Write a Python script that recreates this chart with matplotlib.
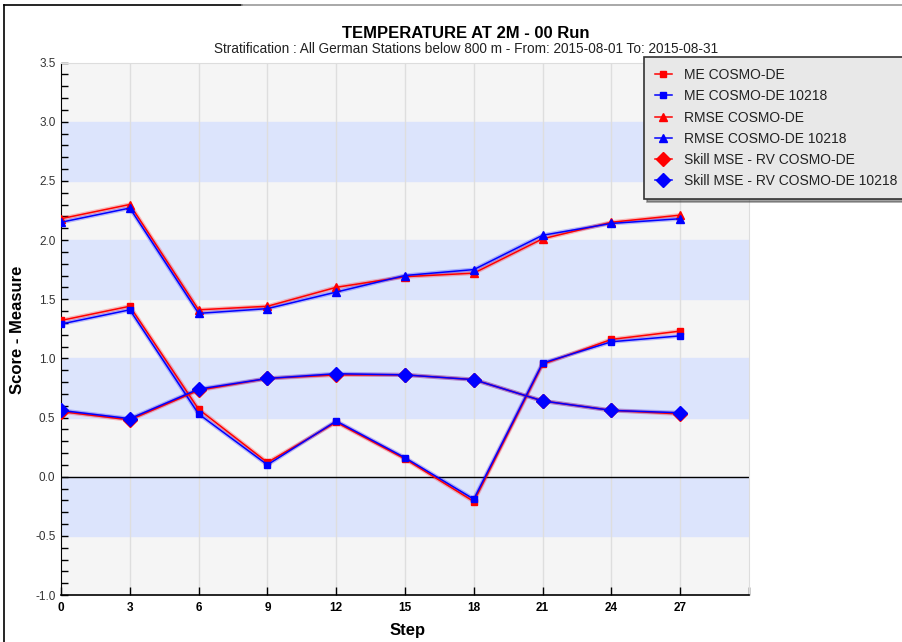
import matplotlib
matplotlib.use('Agg')
import matplotlib.pyplot as plt
from matplotlib.lines import Line2D
from matplotlib.ticker import MultipleLocator

# forecast steps (hours)
steps = [0, 3, 6, 9, 12, 15, 18, 21, 24, 27]

me_ref = [1.32, 1.44, 0.57, 0.12, 0.46, 0.15, -0.21, 0.95, 1.16, 1.23]
me_exp = [1.29, 1.41, 0.53, 0.10, 0.47, 0.16, -0.19, 0.96, 1.14, 1.19]
rmse_ref = [2.18, 2.30, 1.41, 1.44, 1.60, 1.69, 1.72, 2.01, 2.15, 2.21]
rmse_exp = [2.15, 2.27, 1.38, 1.42, 1.56, 1.70, 1.75, 2.04, 2.14, 2.18]
skill_ref = [0.55, 0.48, 0.73, 0.83, 0.86, 0.86, 0.82, 0.64, 0.56, 0.53]
skill_exp = [0.56, 0.49, 0.74, 0.83, 0.87, 0.86, 0.82, 0.64, 0.56, 0.54]

FONT = ['Liberation Sans', 'DejaVu Sans']
plt.rcParams['font.family'] = FONT

W, H = 903, 642
fig = plt.figure(figsize=(W / 100, H / 100), dpi=100, facecolor='white')
ax = fig.add_axes([61 / W, 1 - 595 / H, (749 - 61) / W, (595 - 62.5) / H])

# striped background
ax.set_facecolor('#f5f5f5')
for lo in [2.5, 1.5, 0.5, -0.5]:
    ax.axhspan(lo, lo + 0.5, color='#dce4fc', zorder=0)
for s in steps[1:]:
    ax.axvline(s, color='#dedede', lw=1, zorder=1)
ax.axhline(0, color='black', lw=1, zorder=2)

series = [
    (me_ref, 'red', 's', 5, 'ME COSMO-DE'),
    (me_exp, 'blue', 's', 5, 'ME COSMO-DE 10218'),
    (rmse_ref, 'red', '^', 6, 'RMSE COSMO-DE'),
    (rmse_exp, 'blue', '^', 6, 'RMSE COSMO-DE 10218'),
    (skill_ref, 'red', 'D', 7, 'Skill MSE - RV COSMO-DE'),
    (skill_exp, 'blue', 'D', 7, 'Skill MSE - RV COSMO-DE 10218'),
]
handles = []
for vals, col, mk, ms, lab in series:
    # soft halo under each line
    ax.plot(steps, vals, color=col, lw=3, alpha=0.25, zorder=3, solid_capstyle='round')
    h, = ax.plot(steps, vals, color=col, lw=1.1, marker=mk, markersize=ms,
                 markeredgecolor=col, label=lab, zorder=4)
    handles.append(h)

ax.set_xlim(0, 30)
ax.set_ylim(-1.0, 3.5)
ax.set_xticks(list(range(0, 31, 3)))
ax.set_xticklabels([str(s) for s in steps] + [''], fontweight='bold', fontsize=8.5)
ax.yaxis.set_major_locator(MultipleLocator(0.5))
ax.yaxis.set_minor_locator(MultipleLocator(0.1))
ax.yaxis.set_major_formatter(plt.FuncFormatter(lambda y, loc: '{:.1f}'.format(y)))
ax.tick_params(axis='y', which='both', direction='in', length=5, width=1,
               labelsize=8.5, labelcolor='#333333', pad=4)
ax.tick_params(axis='x', direction='in', length=6, width=1, pad=5)
ax.spines['left'].set_color('black')
ax.spines['bottom'].set_color('black')
ax.spines['bottom'].set_linewidth(1.2)
ax.spines['top'].set_color('#dddddd')
ax.spines['right'].set_color('#dddddd')

ax.set_xlabel('Step', fontsize=12, fontweight='bold', va='center')
ax.xaxis.set_label_coords((408 - 61) / (749 - 61), -(630 - 595) / (595 - 62.5))
ax.set_ylabel('Score - Measure', fontsize=12, fontweight='bold', va='center')
ax.yaxis.set_label_coords(-(61 - 18) / (749 - 61), (595 - 330) / (595 - 62.5))

fig.text(466 / W, 1 - 33 / H, 'TEMPERATURE AT 2M - 00 Run', ha='center', va='center',
         fontsize=12, fontweight='bold')
fig.text(466 / W, 1 - 49 / H,
         'Stratification : All German Stations below 800 m - From: 2015-08-01 To: 2015-08-31',
         ha='center', va='center', fontsize=9.8, color='#222222')

leg = fig.legend(handles=handles, loc='upper left', bbox_to_anchor=(644 / W, 1 - 57 / H),
                 prop={'size': 10}, frameon=True, fancybox=False, shadow=True,
                 handlelength=1.2, handletextpad=0.9, labelspacing=0.52,
                 borderpad=0.8, borderaxespad=0)
leg.get_frame().set_facecolor('#e8e8e8')
leg.get_frame().set_edgecolor('#333333')
leg.get_frame().set_linewidth(1.2)
for t in leg.get_texts():
    t.set_color('#222222')

# window border
fig.add_artist(Line2D([4 / W, 4 / W], [0, 1 - 5 / H], color='black', lw=1.2, transform=fig.transFigure))
fig.add_artist(Line2D([4 / W, 242 / W], [1 - 5 / H, 1 - 5 / H], color='black', lw=1.2, transform=fig.transFigure))
fig.add_artist(Line2D([242 / W, 1], [1 - 5 / H, 1 - 5 / H], color='#999999', lw=1.2, transform=fig.transFigure))

fig.savefig('out.png', dpi=100)
